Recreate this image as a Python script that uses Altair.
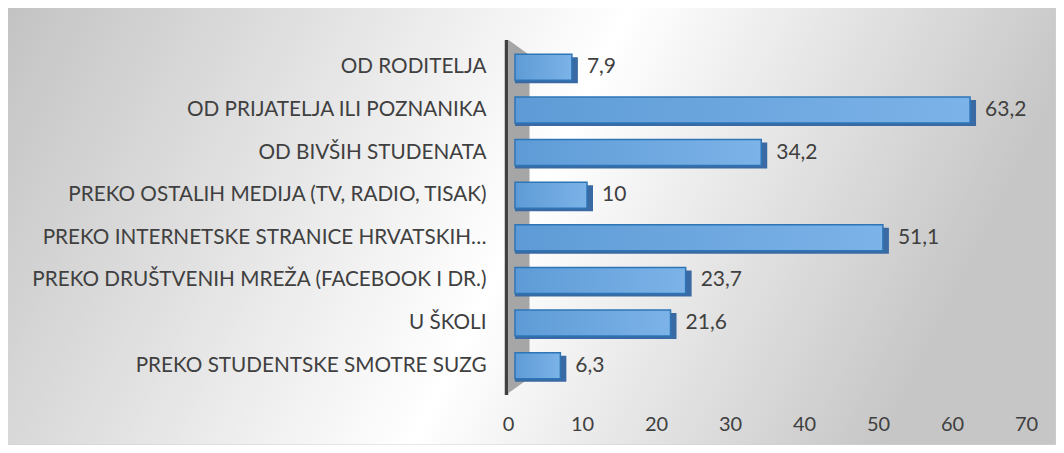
import altair as alt
import pandas as pd

categories = [
    "OD RODITELJA",
    "OD PRIJATELJA ILI POZNANIKA",
    "OD BIVŠIH STUDENATA",
    "PREKO OSTALIH MEDIJA (TV, RADIO, TISAK)",
    "PREKO INTERNETSKE STRANICE HRVATSKIH…",
    "PREKO DRUŠTVENIH MREŽA (FACEBOOK I DR.)",
    "U ŠKOLI",
    "PREKO STUDENTSKE SMOTRE SUZG",
]
values = [7.9, 63.2, 34.2, 10, 51.1, 23.7, 21.6, 6.3]
x_ticks = [0, 10, 20, 30, 40, 50, 60, 70]

df = pd.DataFrame({
    "category": categories,
    "value": values,
    "label": [f"{v:g}".replace(".", ",") for v in values],
})
ticks_df = pd.DataFrame({"t": x_ticks})
one = pd.DataFrame({"a": [0]})

W, H = 518, 341
FONT = "Lato"
TXT = "#404040"

bg_grad = {
    "gradient": "linear", "x1": 0, "y1": 0, "x2": 1, "y2": 0.209,
    "stops": [
        {"offset": 0, "color": "#c3c3c3"},
        {"offset": 0.57, "color": "#ffffff"},
        {"offset": 1, "color": "#c6c6c6"},
    ],
}
bar_grad = {
    "gradient": "linear", "x1": 0, "y1": 0, "x2": 1, "y2": 0,
    "stops": [
        {"offset": 0, "color": "#5e9bd6"},
        {"offset": 1, "color": "#7cb3e8"},
    ],
}

# axis scale (tick labels) and the slightly inset 3-D front-face scale of the bars
axis_scale = alt.Scale(domain=[0, 70], nice=False, zero=True)
bar_scale = alt.Scale(domain=[-0.9722, 70.972], nice=False, zero=False)
yscale = alt.Scale(paddingInner=0.39, paddingOuter=0.195)

bg = alt.Chart(one).mark_rect(fill=bg_grad, stroke="#d0d0d0", strokeWidth=1).encode(
    x=alt.value(-501), x2=alt.value(W + 30), y=alt.value(-39), y2=alt.value(H + 58)
)

wall_path = "M -0.0595 -1 L 0.0595 -0.915 L 0.0595 0.915 L -0.0595 1 Z"
wall = alt.Chart(one).mark_point(
    shape=wall_path, size=124609, filled=True, fill="#a6a6a6", opacity=1, strokeWidth=0
).encode(x=alt.value(11), y=alt.value(170.5))

axis_line = alt.Chart(one).mark_rule(color="#404040", strokeWidth=3.5).encode(
    x=alt.value(-1.5), y=alt.value(-6), y2=alt.value(349)
)

enc_y = alt.Y("category:N", sort=categories, scale=yscale,
              axis=alt.Axis(title=None, ticks=False, domain=False, labelFont=FONT,
                            labelFontSize=20.7, labelColor=TXT, labelPadding=22,
                            labelLimit=0, grid=False, zindex=1))

xaxis_layer = alt.Chart(ticks_df).mark_point(opacity=0).encode(
    x=alt.X("t:Q", scale=axis_scale,
            axis=alt.Axis(title=None, values=x_ticks, ticks=False, domain=False,
                          grid=False, labelFont=FONT, labelFontSize=20,
                          labelColor=TXT, labelPadding=27, labelFlush=False,
                          zindex=1)),
    y=alt.value(0),
)

depth = alt.Chart(df).mark_bar(
    color="#3a6aa3", xOffset=6, x2Offset=0, yOffset=3, y2Offset=3
).encode(
    x=alt.X("value:Q", scale=bar_scale, axis=None),
    x2=alt.datum(0),
    y=enc_y,
)

front = alt.Chart(df).mark_bar(
    fill=bar_grad, stroke="#2e75b6", strokeWidth=1.5
).encode(
    x=alt.X("value:Q", scale=bar_scale, axis=None),
    x2=alt.datum(0),
    y=enc_y,
)

labels = alt.Chart(df).mark_text(
    align="left", baseline="middle", dx=15, font=FONT, fontSize=21, color=TXT
).encode(
    x=alt.X("value:Q", scale=bar_scale, axis=None),
    y=enc_y,
    text="label:N",
)

chart = alt.layer(bg, wall, axis_line, xaxis_layer, depth, front, labels).resolve_scale(
    x="independent"
).properties(
    width=W, height=H,
    autosize=alt.AutoSizeParams(type="none"),
    padding={"left": 500, "top": 38, "right": 30, "bottom": 58},
    background="white",
).configure_view(stroke=None)

chart.save("out.html", embed_options={"renderer": "svg", "actions": False})
